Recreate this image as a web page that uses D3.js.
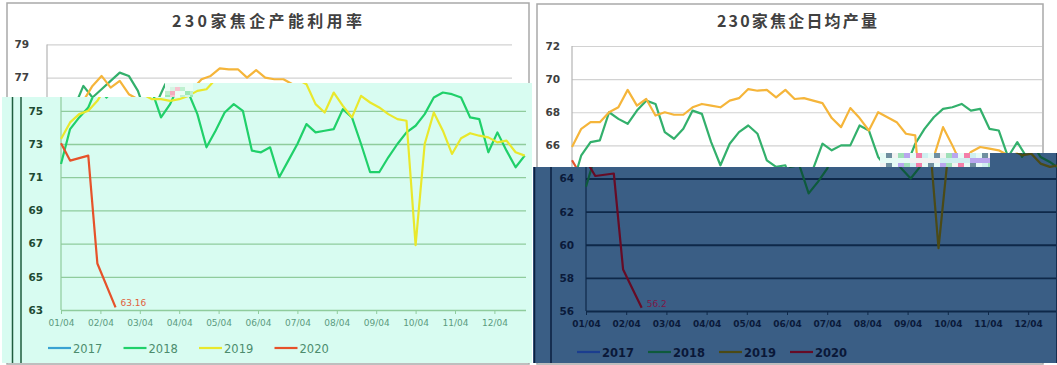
<!DOCTYPE html>
<html>
<head>
<meta charset="utf-8">
<script src="https://cdn.jsdelivr.net/npm/d3@7"></script>
<style>
  html, body { margin: 0; padding: 0; background: #ffffff; }
  svg { display: block; }
</style>
</head>
<body>
<svg id="chart" width="1057" height="365"></svg>
<script>
// ---- data -------------------------------------------------------------
const monthLabels = ["01/04", "02/04", "03/04", "04/04", "05/04", "06/04",
                     "07/04", "08/04", "09/04", "10/04", "11/04", "12/04"];
const years = ["2017", "2018", "2019", "2020"];

// capacity utilisation (%), one value per week
const utilTicks = [63, 65, 67, 69, 71, 73, 75, 77, 79];
const util2017 = [];
const util2018 = [71.8, 73.9, 74.6, 75.2, 76.5, 75.8, 76.3, 76.8, 77.3, 77.1,
                  76.2, 74.6, 75.4, 76.6, 76.1, 74.8, 72.8, 73.8, 74.9, 75.4,
                  75.0, 72.6, 72.5, 72.8, 71.0, 72.0, 73.0, 74.2, 73.7, 73.8,
                  73.9, 75.1, 74.6, 73.0, 71.3, 71.3, 72.2, 73.0, 73.7, 74.1,
                  74.8, 75.8, 76.1, 76.0, 75.8, 74.6, 74.5, 72.5, 73.7, 72.6,
                  71.6, 72.3];
const util2019 = [73.3, 74.3, 74.8, 75.0, 75.6, 76.5, 77.1, 76.4, 76.8, 76.0,
                  75.7, 75.7, 75.6, 75.7, 75.9, 76.2, 76.3, 76.9, 77.1, 77.55,
                  77.5, 77.5, 77.0, 77.45, 77.0, 76.9, 76.9, 76.6, 75.4, 74.9,
                  76.1, 75.3, 74.6, 75.9, 75.5, 75.2, 74.8, 74.5, 74.4, 66.9,
                  73.0, 74.9, 73.8, 72.4, 73.35, 73.65, 73.5, 73.4, 73.1, 73.2,
                  72.5, 72.3];
// weeks without a survey are null and get bridged by the line
const util2020 = [73.05, 72.0, null, 72.3, 65.8, null, 63.16];

// average daily output (10k t), one value per week
const outTicks = [56, 58, 60, 62, 64, 66, 68, 70, 72];
const out2017 = [];
const out2018 = [63.5, 65.4, 66.2, 66.3, 68.0, 67.6, 67.3, 68.1, 68.7, 68.5,
                 66.8, 66.4, 67.0, 68.1, 67.9, 66.2, 64.8, 66.1, 66.8, 67.2,
                 66.7, 65.1, 64.7, 64.8, 63.1, 63.8, 64.6, 66.1, 65.7, 66.0,
                 66.0, 67.2, 66.9, 65.3, 64.6, 64.0, 64.7, 66.1, 67.0, 67.7,
                 68.2, 68.3, 68.5, 68.1, 68.2, 67.0, 66.9, 65.3, 66.2, 65.3,
                 65.0, 64.6];
const out2019 = [65.9, 67.0, 67.4, 67.4, 68.0, 68.3, 69.35, 68.4, 68.8, 67.8,
                 68.0, 67.85, 67.85, 68.3, 68.5, 68.4, 68.3, 68.7, 68.85, 69.4,
                 69.3, 69.35, 68.9, 69.35, 68.8, 68.85, 68.7, 68.55, 67.65, 67.1,
                 68.25, 67.65, 66.9, 68.0, 67.7, 67.4, 66.7, 66.6, 59.8, 65.3,
                 67.1, 66.0, 64.8, 65.6, 65.9, 65.8, 65.7, 65.4, 65.5, 64.9,
                 64.7, 64.8];
const out2020 = [65.1, 64.15, null, 64.3, 58.5, null, 56.2];

// ---- layout & themes ----------------------------------------------------
const WEEKS = 52;

const leftCfg = {
  title: "230家焦企产能利用率", titleX: 267, titleY: 27, titleLen: 190,
  frame: [7, 3, 529, 364],
  x0: 47, monthW: 39.4, gridEnd: 512,
  yTop: 44.4, yBottom: 310, ticks: utilTicks, labelPad: 18,
  series: [util2017, util2018, util2019, util2020],
  legendX: 34, legendStep: 75.5, legendY: 348
};
const rightCfg = {
  title: "230家焦企日均产量", titleX: 797, titleY: 27, titleLen: 160,
  frame: [537, 4, 1043, 364],
  x0: 572, monthW: 40.2, gridEnd: 1042,
  yTop: 46, yBottom: 311, ticks: outTicks, labelPad: 12,
  series: [out2017, out2018, out2019, out2020],
  legendX: 563, legendStep: 71, legendY: 352
};

const plainTheme = {
  fill: "#ffffff", frame: "#a9a9a9", grid: "#d2d2d2", gridW: 1.2, axis: "#b4b4b4",
  ylab: "#404040", xlab: "#7f7f7f", xlabWeight: "normal", legend: "#595959", legendWeight: "normal",
  title: "#404040",
  colors: ["#3d9fd8", "#33b06c", "#f5b53a", "#e5532d"], endLabel: "#e5532d"
};
const mintTheme = {
  fill: null, frame: "#1f5c3e", grid: "#8fcc9d", gridW: 1.3, axis: "#8fcc9d",
  ylab: "#1e4a33", xlab: "#5b9b7f", xlabWeight: "normal", legend: "#4c8c6d", legendWeight: "normal",
  title: "#1e4a33",
  colors: ["#39a2d2", "#20d06a", "#e9e82c", "#e6522a"], endLabel: "#e0613c"
};
const navyTheme = {
  fill: null, frame: "#0b1f3f", grid: "#0e2849", gridW: 1.8, axis: "#0e2849",
  ylab: "#0a1a3a", xlab: "#0a1a3a", xlabWeight: "bold", legend: "#0a1838", legendWeight: "bold",
  title: "#0a1a3a",
  colors: ["#1b3d8f", "#0e5a3c", "#4b4a16", "#660b25"], endLabel: "#7b1848"
};

// ---- drawing ------------------------------------------------------------
const svg = d3.select("#chart");
const defs = svg.append("defs");

function drawChart(g, cfg, th) {
  const x = d3.scaleLinear().domain([0, WEEKS]).range([cfg.x0, cfg.x0 + 12 * cfg.monthW]);
  const y = d3.scaleLinear().domain(d3.extent(cfg.ticks)).range([cfg.yBottom, cfg.yTop]);
  const [fx0, fy0, fx1, fy1] = cfg.frame;

  g.append("rect")
    .attr("x", fx0).attr("y", fy0).attr("width", fx1 - fx0).attr("height", fy1 - fy0)
    .attr("fill", th.fill || "none").attr("stroke", th.frame).attr("stroke-width", 1.5);

  g.append("text")
    .attr("x", cfg.titleX).attr("y", cfg.titleY)
    .attr("text-anchor", "middle")
    .attr("textLength", cfg.titleLen).attr("lengthAdjust", "spacing")
    .style("font-family", "'Noto Sans CJK SC', 'DejaVu Sans', sans-serif")
    .style("font-size", "16px").style("font-weight", "bold")
    .attr("fill", th.title)
    .text(cfg.title);

  // value axis with horizontal gridlines
  const yAxis = d3.axisLeft(y)
    .tickValues(cfg.ticks)
    .tickSize(-(cfg.gridEnd - cfg.x0))
    .tickPadding(cfg.labelPad)
    .tickFormat(d3.format("d"));
  const ya = g.append("g").attr("transform", `translate(${cfg.x0},0)`).call(yAxis);
  ya.select(".domain").remove();
  ya.selectAll(".tick line").attr("stroke", th.grid).attr("stroke-width", th.gridW);
  ya.selectAll(".tick text")
    .attr("fill", th.ylab)
    .style("font-family", "'DejaVu Sans', sans-serif")
    .style("font-size", "10.5px").style("font-weight", "bold");
  g.append("line")
    .attr("x1", cfg.x0).attr("x2", cfg.x0)
    .attr("y1", y(d3.max(cfg.ticks))).attr("y2", cfg.yBottom)
    .attr("stroke", th.axis).attr("stroke-width", 1.2);

  // month axis
  const monthPos = monthLabels.map((_, i) => i * WEEKS / 12);
  const xAxis = d3.axisBottom(x)
    .tickValues(monthPos)
    .tickSizeInner(4).tickSizeOuter(0).tickPadding(6)
    .tickFormat((d, i) => monthLabels[i]);
  const xa = g.append("g").attr("transform", `translate(0,${cfg.yBottom})`).call(xAxis);
  xa.select(".domain").attr("d", `M${cfg.x0},0.5H${cfg.gridEnd}`)
    .attr("stroke", th.axis).attr("stroke-width", 1.2);
  xa.selectAll(".tick line").attr("stroke", th.axis);
  xa.selectAll(".tick text")
    .attr("fill", th.xlab)
    .style("font-family", "'DejaVu Sans', sans-serif")
    .style("font-size", "9px").style("font-weight", th.xlabWeight);

  // one line per year
  const line = d3.line().x(d => x(d.k)).y(d => y(d.v));
  cfg.series.forEach((vals, i) => {
    const pts = vals.map((v, k) => ({ k, v })).filter(d => d.v != null);
    if (!pts.length) return;
    g.append("path").datum(pts)
      .attr("d", line)
      .attr("fill", "none")
      .attr("stroke", th.colors[i])
      .attr("stroke-width", 2.2)
      .attr("stroke-linejoin", "round");
  });

  // latest value of the current year
  const cur = cfg.series[3].map((v, k) => ({ k, v })).filter(d => d.v != null);
  const last = cur[cur.length - 1];
  g.append("text")
    .attr("x", x(last.k) + 5).attr("y", y(last.v) - 1)
    .attr("fill", th.endLabel)
    .style("font-family", "'DejaVu Sans', sans-serif")
    .style("font-size", "9px")
    .text(last.v);

  // legend
  years.forEach((yr, i) => {
    const lx = cfg.legendX + i * cfg.legendStep;
    g.append("line")
      .attr("x1", lx).attr("x2", lx + 23)
      .attr("y1", cfg.legendY).attr("y2", cfg.legendY)
      .attr("stroke", th.colors[i]).attr("stroke-width", 2.2);
    g.append("text")
      .attr("x", lx + 25).attr("y", cfg.legendY + 4.5)
      .attr("fill", th.legend)
      .style("font-family", "'DejaVu Sans', sans-serif")
      .style("font-size", "11.5px").style("font-weight", th.legendWeight)
      .text(yr);
  });
}

// small tiled strip of off-colour pixels
function mosaic(g, x, y, w, h, cw, ch, palette) {
  const cols = Math.ceil(w / cw), rows = Math.ceil(h / ch);
  for (let r = 0; r < rows; r++) {
    for (let c = 0; c < cols; c++) {
      const idx = (c * 7 + r * 3 + ((c * r) % 5)) % palette.length;
      g.append("rect")
        .attr("x", x + c * cw).attr("y", y + r * ch)
        .attr("width", Math.min(cw, w - c * cw)).attr("height", Math.min(ch, h - r * ch))
        .attr("fill", palette[idx]);
    }
  }
}

// tinted, shifted band laid over the lower part of a chart
function drawBand(id, cfg, th, shape, bg, seamX, shift) {
  defs.append("clipPath").attr("id", id).append("path").attr("d", shape);
  const band = svg.append("g").attr("clip-path", `url(#${id})`);
  band.append("rect").attr("x", 0).attr("y", 0).attr("width", 1057).attr("height", 365).attr("fill", bg);
  band.append("line")
    .attr("x1", seamX).attr("x2", seamX).attr("y1", 0).attr("y2", 365)
    .attr("stroke", th.frame).attr("stroke-width", 1.5);
  drawChart(band.append("g").attr("transform", `translate(${shift},0)`), cfg, th);
  return band;
}

drawChart(svg.append("g"), leftCfg, plainTheme);
drawChart(svg.append("g"), rightCfg, plainTheme);

drawBand("band-left", leftCfg, mintTheme,
  "M2,97H165V83H532V363H2Z", "#d8fcf1", 12.5, 14);
drawBand("band-right", rightCfg, navyTheme,
  "M533,167H990V153H1057V363H533Z", "#3a5e85", 534.5, 14);

// seams where the bands meet the plain charts
mosaic(svg.append("g"), 165, 83, 28, 14, 5, 4,
  ["#e9fdf4", "#f4a9bd", "#9be8b4", "#e9fdf4", "#d6f5e4", "#f7c3cf", "#bff0cf"]);
mosaic(svg.append("g"), 880, 153, 110, 14, 6, 5,
  ["#e6fbf6", "#cfeff0", "#f37fa9", "#e6fbf6", "#b9a6ee", "#9fe0b8", "#f2f2f2", "#6f8fa0"]);
</script>
</body>
</html>
